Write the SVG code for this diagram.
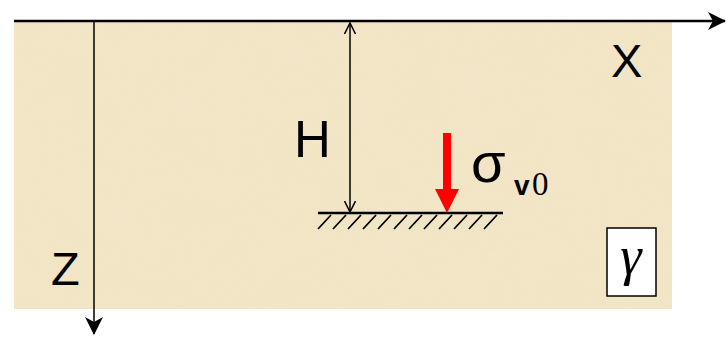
<svg xmlns="http://www.w3.org/2000/svg" width="727" height="340" viewBox="0 0 727 340">
<defs>
<filter id="tex" x="0" y="0" width="100%" height="100%">
<feTurbulence type="fractalNoise" baseFrequency="0.02 0.03" numOctaves="3" seed="4" result="n"/>
<feColorMatrix in="n" type="matrix" values="0 0 0 0 0.9  0 0 0 0 0.8  0 0 0 0 0.62  0 0 0 1.2 -0.45" result="c"/>
<feComposite in="c" in2="SourceGraphic" operator="in"/>
</filter>
<marker id="ah" viewBox="0 0 18 18" refX="17" refY="9" markerWidth="18" markerHeight="18" markerUnits="userSpaceOnUse" orient="auto-start-reverse">
<path d="M0,0 L18,9 L0,18 L5,9 Z" fill="#000"/>
</marker>
<marker id="ha" viewBox="0 0 12 12" refX="11" refY="6" markerWidth="12" markerHeight="12" markerUnits="userSpaceOnUse" orient="auto-start-reverse">
<path d="M0,0.5 L11,6 L0,11.5" fill="none" stroke="#000" stroke-width="1.5"/>
</marker>
<style>
.ax{stroke:#000;stroke-width:2.5;fill:none}
.thin{stroke:#000;stroke-width:1.5;fill:none}
.t{font-family:"Liberation Sans",Arial,sans-serif;fill:#000}
</style>
</defs>
<g id="soil">
<rect x="14" y="22" width="658" height="287" fill="#f2e5c5"/>
<rect x="14" y="22" width="658" height="287" fill="#f2e5c5" filter="url(#tex)" opacity="0.4"/>
</g>
<g id="connectors">
<line class="ax" x1="14" y1="21" x2="725" y2="21" marker-end="url(#ah)"/>
<line class="thin" x1="94" y1="21" x2="94" y2="334" marker-end="url(#ah)"/>
<line class="thin" x1="350" y1="23" x2="350" y2="212" marker-start="url(#ha)" marker-end="url(#ha)"/>
</g>
<g id="ground">
<line x1="318" y1="213" x2="503" y2="213" stroke="#000" stroke-width="2.5"/>
<path d="M318,229 l13,-14 M333,229 l13,-14 M348,229 l13,-14 M363,229 l13,-14 M378,229 l13,-14 M394,229 l13,-14 M409,229 l13,-14 M424,229 l13,-14 M439,229 l13,-14 M454,229 l13,-14 M469,229 l13,-14 M484,229 l13,-14" stroke="#000" stroke-width="1.8"/>
</g>
<g id="load">
<rect x="443" y="133" width="8" height="58" fill="#ff0000"/>
<path d="M435,189 L459,189 L447,213 Z" fill="#ff0000"/>
</g>
<g id="labels">
<text class="t" x="611" y="77" font-size="47">X</text>
<text class="t" x="51" y="285" font-size="47">Z</text>
<text class="t" x="294" y="157" font-size="51">H</text>
<text class="t" x="471" y="182" font-size="56">σ</text>
<text class="t" x="514" y="195" font-size="28" font-weight="bold">v</text>
<text x="532" y="195" font-size="33" font-family="'Liberation Serif','Times New Roman',serif">0</text>
</g>
<g id="gamma">
<rect x="607" y="228" width="49" height="68" fill="#fff" stroke="#000" stroke-width="1.5"/>
<text x="631" y="274" font-size="54" font-style="italic" text-anchor="middle" font-family="'Liberation Serif','Times New Roman',serif">γ</text>
</g>
</svg>
